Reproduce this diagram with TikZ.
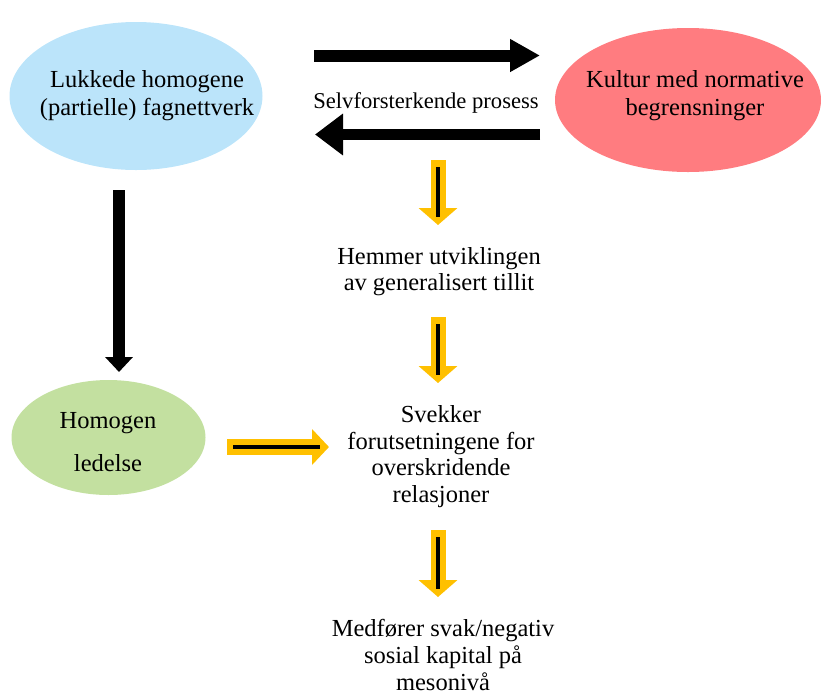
\documentclass[tikz,border=0pt]{standalone}
\usepackage{fontspec}
\setmainfont{Liberation Serif}
\usetikzlibrary{arrows.meta,shapes.geometric,calc}
\definecolor{ellblue}{RGB}{187,228,250}
\definecolor{ellred}{RGB}{255,124,128}
\definecolor{ellgreen}{RGB}{195,224,160}
\definecolor{arrowyellow}{RGB}{255,192,0}
\begin{document}
\begin{tikzpicture}[x=1pt,y=-1pt,
  ell/.style={ellipse, inner sep=0pt, draw=none},
  txt/.style={font=\fontsize{24.5}{26.5}\selectfont, align=center, anchor=base, inner sep=0pt},
  yarrow/.style={draw=arrowyellow, line width=15pt, -{Triangle[width=38pt,length=17pt]}},
  yinner/.style={draw=black, line width=3.5pt},
  barrow/.style={draw=black, line width=12pt}
]
\useasboundingbox (0,0) rectangle (822,697);
% ellipses
\node[ell, fill=ellblue, minimum width=253pt, minimum height=148pt] (blue) at (136,96) {};
\node[ell, fill=ellred, minimum width=266pt, minimum height=144pt] (red) at (688,100) {};
\node[ell, fill=ellgreen, minimum width=194pt, minimum height=115pt] (green) at (108.5,437.5) {};
% texts (anchor = baseline of the last line)
\node[txt, font=\fontsize{24.5}{28}\selectfont] (lukk) at (147,115) {Lukkede homogene\\(partielle) fagnettverk};
\node[txt, font=\fontsize{24.5}{28}\selectfont] (kult) at (695,115) {Kultur med normative\\begrensninger};
\node[txt, font=\fontsize{22.6}{26}\selectfont] (selv) at (426,108) {Selvforsterkende prosess};
\node[txt, font=\fontsize{24.5}{26}\selectfont] (hemm) at (439,290) {Hemmer utviklingen\\av generalisert tillit};
\node[txt] (svek) at (441,502) {Svekker\\forutsetningene for\\overskridende\\relasjoner};
\node[txt, font=\fontsize{24.5}{43}\selectfont] (homo) at (108,471) {Homogen\\ledelse};
\node[txt, font=\fontsize{24.5}{27}\selectfont] (medf) at (443,690) {Medfører svak/negativ\\sosial kapital på\\mesonivå};
% black arrows
\coordinate (a1s) at (314,55.5);
\coordinate (a1e) at (540,55.5);
\coordinate (a2s) at (540,134.5);
\coordinate (a2e) at (315,134.5);
\coordinate (a3s) at (119,190);
\coordinate (a3e) at (119,372);
\draw[barrow, -{Triangle[width=31pt,length=30pt]}] (a1s) -- (a1e);
\draw[barrow, line width=11pt, -{Triangle[width=40pt,length=28pt]}] (a2s) -- (a2e);
\draw[barrow, -{Triangle[width=27pt,length=15pt]}] (a3s) -- (a3e);
% yellow arrows
\coordinate (y1s) at (438,160);
\coordinate (y1e) at (438,225);
\coordinate (y2s) at (438,317);
\coordinate (y2e) at (438,383);
\coordinate (y3s) at (438,530);
\coordinate (y3e) at (438,597);
\coordinate (y4s) at (227,447);
\coordinate (y4e) at (329,447);
\draw[yarrow] (y1s) -- (y1e);
\draw[yinner] ($(y1s)+(0,7)$) -- ($(y1e)+(0,-8)$);
\draw[yarrow] (y2s) -- (y2e);
\draw[yinner] ($(y2s)+(0,7)$) -- ($(y2e)+(0,-8)$);
\draw[yarrow] (y3s) -- (y3e);
\draw[yinner] ($(y3s)+(0,7)$) -- ($(y3e)+(0,-8)$);
\draw[yarrow, line width=16pt, -{Triangle[width=35pt,length=17pt]}] (y4s) -- (y4e);
\draw[yinner] ($(y4s)+(6,0)$) -- ($(y4e)+(-9,0)$);
\end{tikzpicture}
\end{document}
